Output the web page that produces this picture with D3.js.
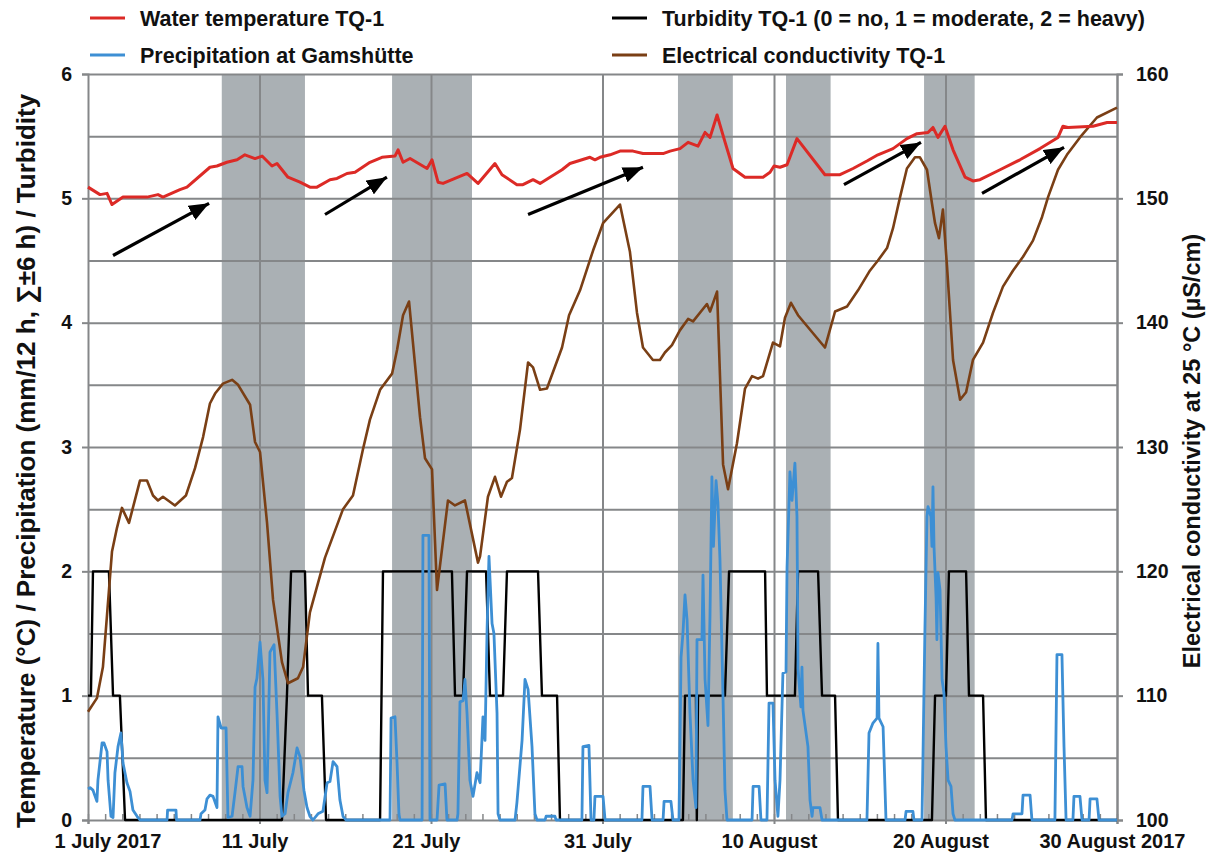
<!DOCTYPE html>
<html>
<head>
<meta charset="utf-8">
<script src="https://cdn.jsdelivr.net/npm/d3@7"></script>
<style>
    body { margin: 0; background: #fff; }
    svg text { font-family: "Liberation Sans", Arial, sans-serif; font-weight: bold; fill: #111; }
</style>
</head>
<body>
<div id="chart"></div>
<script>
// x values are days after 1 July 2017 00:00
const labelDays = [0, 10, 20, 30, 40, 50, 60];
const dayLabels = ['1 July 2017', '11 July', '21 July', '31 July', '10 August', '20 August', '30 August 2017'];

// grey shaded periods [from, to] in days
const eventBands = [[7.8, 12.65], [17.73, 22.39], [34.4, 37.6], [40.7, 43.3], [48.75, 51.7]];

// water temperature TQ-1 (°C)
const temperature = [
    [0, 5.09], [0.7, 5.03], [1.11, 5.04], [1.4, 4.95], [2.04, 5.01], [3.44, 5.01], [4.08, 5.03], [4.37, 5.01],
    [5.36, 5.07], [5.77, 5.09], [7.11, 5.25], [7.52, 5.26], [8.1, 5.29], [8.69, 5.31], [9.15, 5.35], [9.74, 5.32],
    [10.15, 5.34], [10.73, 5.26], [11.02, 5.28], [11.66, 5.17], [12.36, 5.13], [12.94, 5.09], [13.35, 5.09],
    [14.11, 5.15], [14.52, 5.16], [15.1, 5.2], [15.57, 5.21], [16.44, 5.29], [17.14, 5.33], [17.9, 5.34],
    [18.08, 5.39], [18.37, 5.29], [18.78, 5.32], [19.77, 5.24], [20.06, 5.31], [20.41, 5.13], [20.7, 5.12],
    [22.1, 5.2], [22.74, 5.12], [23.73, 5.28], [24.14, 5.19], [25.01, 5.11], [25.36, 5.11], [25.95, 5.15],
    [26.36, 5.12], [26.94, 5.17], [27.64, 5.23], [28.1, 5.28], [29.27, 5.33], [29.56, 5.31], [29.85, 5.33],
    [30.44, 5.35], [31.02, 5.38], [31.78, 5.38], [32.36, 5.36], [33.53, 5.36], [33.94, 5.38], [34.52, 5.4],
    [34.99, 5.45], [35.57, 5.42], [35.98, 5.53], [36.27, 5.49], [36.68, 5.67], [37.15, 5.45], [37.61, 5.24],
    [38.31, 5.17], [39.36, 5.17], [39.77, 5.21], [40, 5.26], [40.35, 5.25], [40.76, 5.27], [41.34, 5.48],
    [42.97, 5.19], [43.85, 5.19], [44.61, 5.24], [45.42, 5.3], [46.06, 5.35], [46.59, 5.38], [46.94, 5.4],
    [47.75, 5.48], [48.34, 5.52], [48.98, 5.53], [49.27, 5.57], [49.56, 5.49], [49.97, 5.58], [50.44, 5.39],
    [51.14, 5.17], [51.6, 5.14], [52.01, 5.15], [53.18, 5.23], [54.34, 5.31], [55.51, 5.4], [56.56, 5.49],
    [56.85, 5.58], [57.14, 5.57], [58.6, 5.58], [59.42, 5.61], [60, 5.61]
];

// turbidity TQ-1 (0 = no, 1 = moderate, 2 = heavy)
const turbidity = [
    [0, 1], [0.17, 1], [0.29, 2], [1.22, 2], [1.46, 1], [1.86, 1], [2.16, 0],
    [11.31, 0], [11.6, 1], [11.84, 2], [12.65, 2], [12.83, 1], [13.64, 1], [13.88, 0],
    [17.03, 0], [17.2, 2], [21.22, 2], [21.4, 1], [21.87, 1], [22.1, 2], [23.21, 2], [23.44, 1], [24.2, 1],
    [24.43, 2], [26.24, 2], [26.47, 1], [27.35, 1], [27.52, 0],
    [34.69, 0], [34.81, 1], [35.45, 1], [35.5, 0], [35.57, 1], [37.14, 1], [37.38, 2], [39.48, 2], [39.59, 1],
    [41.22, 1], [41.4, 2], [42.57, 2], [42.8, 1], [43.56, 1], [43.73, 0],
    [49.21, 0], [49.39, 1], [50.03, 1], [50.2, 2], [51.2, 2], [51.37, 1], [52.19, 1], [52.36, 0], [60, 0]
];

// precipitation at Gamshütte (mm/12 h)
const precipitation = [
    [0, 0.25], [0.12, 0.26], [0.29, 0.24], [0.52, 0.15], [0.58, 0.32], [0.82, 0.62], [0.93, 0.62], [1.11, 0.55],
    [1.17, 0.32], [1.34, 0.03], [1.46, 0.02], [1.57, 0.38], [1.75, 0.59], [1.92, 0.7], [2.04, 0.46], [2.27, 0.3],
    [2.45, 0.23], [2.62, 0.08], [2.86, 0.03], [3.03, 0], [4.61, 0], [4.64, 0.08], [5.13, 0.08], [5.16, 0],
    [6.53, 0], [6.59, 0.05], [6.82, 0.08], [6.94, 0.17], [7.11, 0.2], [7.29, 0.19], [7.52, 0.1], [7.58, 0.83],
    [7.76, 0.74], [8.05, 0.74], [8.16, 0.02], [8.4, 0.03], [8.57, 0.22], [8.75, 0.43], [8.98, 0.43], [9.04, 0.27],
    [9.27, 0.1], [9.45, 0.03], [9.62, 0.32], [9.74, 1.07], [9.85, 1.14], [10.03, 1.43], [10.2, 1.13], [10.32, 0.32],
    [10.44, 0.22], [10.61, 1.35], [10.85, 1.41], [11.02, 0.86], [11.2, 0.19], [11.31, 0.03], [11.49, 0.05],
    [11.66, 0.22], [11.95, 0.38], [12.19, 0.58], [12.36, 0.51], [12.59, 0.24], [12.77, 0.1], [12.94, 0.03],
    [13.12, 0], [13.41, 0.05], [13.7, 0.07], [13.94, 0.3], [14.11, 0.31], [14.29, 0.47], [14.52, 0.43],
    [14.69, 0.16], [14.87, 0.03], [15.04, 0],
    [17.61, 0], [17.67, 0.82], [17.9, 0.83], [18.02, 0.46], [18.13, 0.05], [18.19, 0],
    [19.48, 0], [19.53, 2.29], [19.88, 2.29], [19.94, 0], [20.35, 0], [20.47, 0.28], [20.82, 0.29], [20.93, 0],
    [21.52, 0], [21.57, 0.05], [21.69, 0.95], [21.87, 0.96], [21.98, 1.13], [22.1, 0.86], [22.27, 0.32],
    [22.45, 0.19], [22.68, 0.38], [22.86, 0.3], [23.03, 0.83], [23.15, 0.64], [23.27, 1.53], [23.38, 2.12],
    [23.56, 1.58], [23.67, 1.5], [23.85, 0.86], [23.91, 0.05], [24.02, 0],
    [24.9, 0], [25.01, 0.14], [25.31, 0.64], [25.48, 1.13], [25.66, 1.05], [25.89, 0.59], [26.06, 0.05], [26.18, 0],
    [26.65, 0], [26.71, 0.03], [27.23, 0.03], [27.29, 0],
    [28.8, 0], [28.86, 0.59], [29.21, 0.6], [29.33, 0], [29.5, 0], [29.56, 0.19], [30.03, 0.19], [30.15, 0],
    [32.3, 0], [32.36, 0.27], [32.77, 0.27], [32.89, 0], [33.53, 0], [33.59, 0.15], [33.99, 0.15], [34.11, 0],
    [34.46, 0], [34.58, 1.31], [34.69, 1.5], [34.81, 1.81], [34.93, 1.61], [35.1, 0.86], [35.28, 0.32],
    [35.45, 0.1], [35.51, 1.45], [35.8, 1.45], [35.86, 1.97], [35.98, 1.13], [36.15, 0.76], [36.27, 1.66],
    [36.38, 2.76], [36.47, 2.2], [36.62, 2.73], [36.73, 2.55], [36.85, 2.09], [37.03, 0.97], [37.14, 0.24], [37.26, 0],
    [38.72, 0], [38.78, 0.27], [39.13, 0.27], [39.24, 0],
    [39.59, 0], [39.71, 0.94], [39.94, 0.94], [40.06, 0.32], [40.23, 0.03], [40.35, 0.32], [40.52, 1.18],
    [40.7, 1.19], [40.76, 2.03], [40.93, 2.8], [41.05, 2.57], [41.22, 2.87], [41.34, 2.44], [41.4, 1.22],
    [41.57, 0.91], [41.63, 1.23], [41.69, 0.88], [41.98, 0.59], [42.1, 0.16], [42.22, 0.03], [42.27, 0.1],
    [42.68, 0.1], [42.8, 0],
    [45.42, 0], [45.54, 0.7], [45.77, 0.78], [46.01, 0.82], [46.06, 1.42], [46.12, 0.82], [46.36, 0.75], [46.53, 0],
    [47.64, 0], [47.7, 0.07], [48.1, 0.07], [48.16, 0],
    [48.63, 0], [48.8, 1.53], [48.92, 2.44], [48.98, 2.52], [49.15, 2.44], [49.21, 2.2], [49.27, 2.68],
    [49.33, 2.2], [49.45, 1.79], [49.5, 1.45], [49.56, 1.99], [49.68, 1.85], [49.8, 1.13], [49.91, 1.02],
    [50.03, 0.59], [50.15, 0.32], [50.32, 0.27], [50.44, 0.05], [50.55, 0],
    [53.88, 0], [53.94, 0.05], [54.46, 0.05], [54.52, 0.2], [54.93, 0.2], [55.04, 0],
    [56.38, 0], [56.5, 1.33], [56.79, 1.33], [56.91, 0.59], [57.03, 0],
    [57.43, 0], [57.49, 0.19], [57.84, 0.19], [57.96, 0], [58.37, 0], [58.43, 0.17], [58.83, 0.17], [58.95, 0],
    [60, 0]
];

// electrical conductivity TQ-1 at 25 °C (µS/cm), right axis
const conductivity = [
    [0, 108.7], [0.52, 109.8], [0.87, 112.3], [1.11, 116.5], [1.4, 121.6], [1.69, 123.5], [1.98, 125.1],
    [2.39, 123.9], [3.03, 127.3], [3.44, 127.3], [3.79, 126.1], [4.08, 125.7], [4.37, 126], [5.07, 125.3],
    [5.71, 126.1], [6.24, 128.3], [6.71, 130.8], [7.11, 133.5], [7.41, 134.3], [7.87, 135.1], [8.4, 135.4],
    [8.75, 135], [9.45, 133.4], [9.74, 130.4], [10.03, 129.6], [10.44, 123.9], [10.79, 117.7], [11.31, 112.7],
    [11.66, 111], [12.24, 111.4], [12.54, 112.3], [12.94, 116.7], [13.82, 121.1], [14.87, 125], [15.45, 126.1],
    [16.03, 129.8], [16.44, 132.2], [17.03, 134.6], [17.73, 135.9], [18.02, 137.8], [18.37, 140.6],
    [18.72, 141.7], [19.36, 132.4], [19.65, 129.1], [20.06, 128.2], [20.35, 118.5], [20.99, 125.7],
    [21.4, 125.3], [21.98, 125.7], [22.74, 120.7], [22.86, 121.2], [23.32, 126], [23.73, 127.6], [24.08, 126],
    [24.43, 127.2], [24.72, 127.5], [25.19, 131.4], [25.66, 136.8], [25.95, 136.4], [26.36, 134.6],
    [26.76, 134.7], [27.64, 138], [28.05, 140.6], [28.69, 142.6], [29.45, 145.8], [30.03, 148], [31.02, 149.5],
    [31.6, 145.7], [32.01, 140.8], [32.36, 138], [32.94, 137], [33.35, 137], [33.64, 137.6], [34.05, 138.2],
    [34.52, 139.4], [34.99, 140.3], [35.28, 140.1], [36.09, 141.5], [36.27, 140.9], [36.68, 142.5],
    [37.03, 128.6], [37.32, 126.6], [37.84, 130.3], [38.31, 134.7], [38.72, 135.7], [39.07, 135.5],
    [39.36, 135.7], [39.94, 138.4], [40.35, 138.1], [40.64, 140.4], [40.99, 141.6], [41.4, 140.6], [42.97, 138],
    [43.56, 140.9], [44.26, 141.3], [44.9, 142.6], [45.6, 144.2], [46.06, 145], [46.59, 146], [46.94, 147.6],
    [47.35, 150.1], [47.75, 152.4], [48.22, 153.3], [48.51, 153.3], [48.92, 152.3], [49.21, 149.6],
    [49.39, 148], [49.62, 146.8], [49.85, 149.1], [50.09, 144.5], [50.44, 137], [50.85, 133.8], [51.2, 134.4],
    [51.6, 137], [52.19, 138.4], [52.77, 140.8], [53.35, 142.9], [53.94, 144.2], [54.52, 145.3], [55.1, 146.6],
    [55.63, 148.5], [55.98, 150.1], [56.56, 152.3], [57.08, 153.5], [57.84, 154.9], [58.83, 156.5], [60, 157.3]
];

// warming-trend arrows [fromDay, fromTemp, toDay, toTemp]
const trendArrows = [
    [1.46, 4.54, 7.06, 4.96], [13.82, 4.87, 17.43, 5.17], [25.66, 4.87, 32.36, 5.25],
    [44.08, 5.11, 48.57, 5.45], [52.13, 5.04, 56.91, 5.41]
];

const legendItems = [
    { label: 'Water temperature TQ-1', color: '#dc2a26', col: 0, row: 0 },
    { label: 'Turbidity TQ-1 (0 = no, 1 = moderate, 2 = heavy)', color: '#000000', col: 1, row: 0 },
    { label: 'Precipitation at Gamshütte', color: '#3d8fd4', col: 0, row: 1 },
    { label: 'Electrical conductivity TQ-1', color: '#7a3f15', col: 1, row: 1 }
];

const W = 1209, H = 854;
const margin = { top: 74, right: 92, bottom: 34, left: 88 };
const width = W - margin.left - margin.right;
const height = H - margin.top - margin.bottom;
const gridColor = '#858789';

const svg = d3.select('#chart').append('svg')
    .attr('width', W).attr('height', H)
    .style('display', 'block');

const chart = svg.append('g').attr('transform', `translate(${margin.left},${margin.top})`);

const x = d3.scaleLinear().domain([0, 60]).range([0, width]);
const yL = d3.scaleLinear().domain([0, 6]).range([height, 0]);
const yR = d3.scaleLinear().domain([100, 160]).range([height, 0]);

// shaded periods
chart.append('g').selectAll('rect')
    .data(eventBands)
    .join('rect')
        .attr('x', d => x(d[0]))
        .attr('width', d => x(d[1]) - x(d[0]))
        .attr('y', 0)
        .attr('height', height)
        .attr('fill', '#aab0b4');

// grid
chart.append('g')
    .call(d3.axisLeft(yL).tickValues(d3.range(0.5, 6.01, 0.5)).tickSize(-width).tickFormat(''))
    .call(ax => {
        ax.select('.domain').remove();
        ax.selectAll('line').attr('stroke', gridColor).attr('stroke-width', 2);
    });
chart.append('g')
    .attr('transform', `translate(0,${height})`)
    .call(d3.axisBottom(x).tickValues(labelDays.slice(1)).tickSize(-height).tickFormat(''))
    .call(ax => {
        ax.select('.domain').remove();
        ax.selectAll('line').attr('stroke', gridColor).attr('stroke-width', 2);
    });

// daily minor ticks
chart.append('g')
    .attr('transform', `translate(0,${height})`)
    .call(d3.axisBottom(x).tickValues(d3.range(0, 61)).tickSize(-6).tickFormat(''))
    .call(ax => {
        ax.select('.domain').remove();
        ax.selectAll('line').attr('stroke', gridColor).attr('stroke-width', 1.5);
    });

// axes
chart.append('g')
    .call(d3.axisLeft(yL).tickValues(d3.range(0, 7)).tickSize(6).tickPadding(10).tickFormat(d3.format('d')))
    .call(ax => {
        ax.selectAll('path,line').attr('stroke', gridColor).attr('stroke-width', 2);
        ax.selectAll('text').attr('font-size', '19.5px').attr('fill', '#111');
    });

chart.append('g')
    .attr('transform', `translate(${width},0)`)
    .call(d3.axisRight(yR).tickValues(d3.range(100, 161, 10)).tickSize(6).tickPadding(13))
    .call(ax => {
        ax.selectAll('path,line').attr('stroke', gridColor).attr('stroke-width', 2);
        ax.selectAll('text').attr('font-size', '19.5px').attr('fill', '#111');
    });

chart.append('g')
    .attr('transform', `translate(0,${height})`)
    .call(d3.axisBottom(x).tickValues(labelDays).tickSize(4).tickPadding(10).tickFormat((d, i) => dayLabels[i]))
    .call(ax => {
        ax.selectAll('path,line').attr('stroke', gridColor).attr('stroke-width', 2);
        ax.selectAll('text')
            .attr('font-size', '20px').attr('fill', '#111')
            .attr('text-anchor', (d, i) => i === 0 ? 'start' : 'middle')
            .attr('dx', (d, i) => i === 0 ? -34 : -5);
    });

// series
const lineL = d3.line().x(d => x(d[0])).y(d => yL(d[1]));
const lineR = d3.line().x(d => x(d[0])).y(d => yR(d[1]));

chart.append('path').datum(turbidity)
    .attr('d', lineL).attr('fill', 'none')
    .attr('stroke', '#000').attr('stroke-width', 2.4).attr('stroke-linejoin', 'round');

chart.append('path').datum(conductivity)
    .attr('d', lineR).attr('fill', 'none')
    .attr('stroke', '#7a3f15').attr('stroke-width', 2.6).attr('stroke-linejoin', 'round');

chart.append('path').datum(precipitation)
    .attr('d', lineL).attr('fill', 'none')
    .attr('stroke', '#3d8fd4').attr('stroke-width', 2.8).attr('stroke-linejoin', 'round');

chart.append('path').datum(temperature)
    .attr('d', lineL).attr('fill', 'none')
    .attr('stroke', '#dc2a26').attr('stroke-width', 3).attr('stroke-linejoin', 'round');

// arrows
svg.append('defs').append('marker')
    .attr('id', 'head')
    .attr('viewBox', '0 0 20 16')
    .attr('refX', 20).attr('refY', 8)
    .attr('markerWidth', 20).attr('markerHeight', 16)
    .attr('markerUnits', 'userSpaceOnUse')
    .attr('orient', 'auto')
  .append('path')
    .attr('d', 'M0,0L20,8L0,16Z')
    .attr('fill', '#000');

chart.append('g').selectAll('line')
    .data(trendArrows)
    .join('line')
        .attr('x1', d => x(d[0])).attr('y1', d => yL(d[1]))
        .attr('x2', d => x(d[2])).attr('y2', d => yL(d[3]))
        .attr('stroke', '#000').attr('stroke-width', 3.2)
        .attr('marker-end', 'url(#head)');

// axis titles
svg.append('text')
    .attr('transform', 'translate(35,461) rotate(-90)')
    .attr('text-anchor', 'middle')
    .attr('font-size', '26px')
    .text('Temperature (°C) / Precipitation (mm/12 h, ∑±6 h) / Turbidity');

svg.append('text')
    .attr('transform', 'translate(1200,451) rotate(-90)')
    .attr('text-anchor', 'middle')
    .attr('font-size', '23.5px')
    .text('Electrical conductivity at 25 °C (µS/cm)');

// legend
const legend = svg.append('g').selectAll('g')
    .data(legendItems)
    .join('g')
        .attr('transform', d => `translate(${d.col ? 612 : 90},${d.row ? 55 : 18})`);
legend.append('line')
    .attr('x1', 0).attr('x2', 35)
    .attr('stroke', d => d.color).attr('stroke-width', 3);
legend.append('text')
    .attr('x', 50).attr('y', 8)
    .attr('font-size', '21.5px')
    .text(d => d.label);
</script>
</body>
</html>
